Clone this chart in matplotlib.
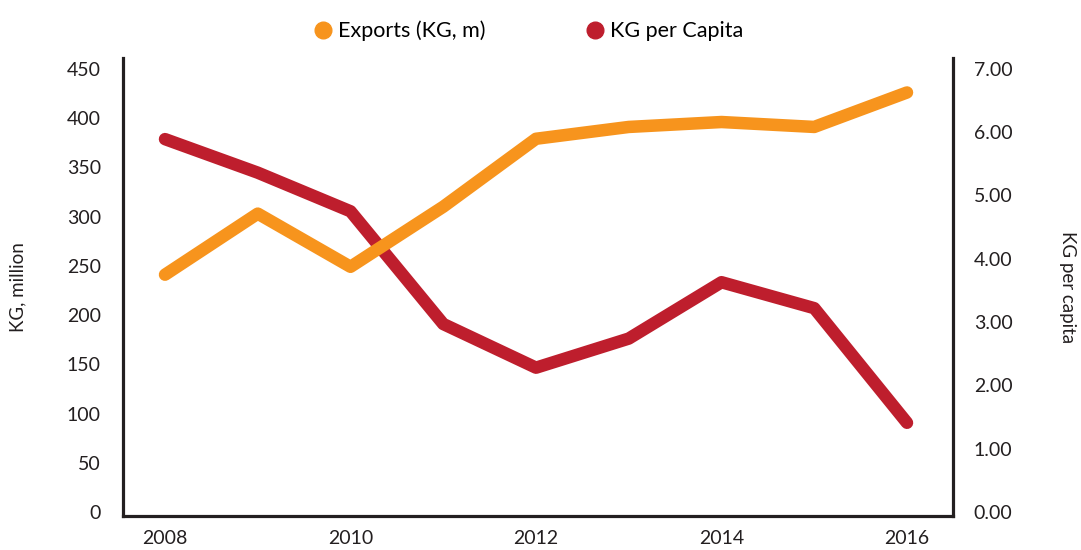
import matplotlib.pyplot as plt
from matplotlib.lines import Line2D

years = [2008, 2009, 2010, 2011, 2012, 2013, 2014, 2015, 2016]
exports = [241, 303, 249, 310, 379, 391, 396, 391, 426]
per_capita = [5.89, 5.36, 4.75, 2.97, 2.28, 2.74, 3.63, 3.22, 1.41]

orange = '#F7941D'
red = '#BE1E2D'
dark = '#231F20'

plt.rcParams['font.family'] = ['Lato', 'DejaVu Sans']

fig = plt.figure(figsize=(10.81, 5.5), dpi=100)
ax = fig.add_axes([123/1081, 1-516/550, (953-123)/1081, (516-58)/550])
ax2 = ax.twinx()

ax.plot(years, exports, color=orange, lw=9, solid_joinstyle='round', solid_capstyle='round', zorder=3)
ax2.plot(years, per_capita, color=red, lw=9, solid_joinstyle='round', solid_capstyle='round', zorder=2)
ax.set_zorder(ax2.get_zorder() + 1)
ax.patch.set_visible(False)

ax.set_xlim(2007.547, 2016.496)
ax.set_ylim(-4, 461)
ax2.set_ylim(-4*7/450, 461*7/450)

ax.set_xticks([2008, 2010, 2012, 2014, 2016])
ax.set_yticks(range(0, 451, 50))
ax2.set_yticks(range(0, 8))
ax2.set_yticklabels([f'{v:.2f}' for v in range(0, 8)])

for a in (ax, ax2):
    for s in a.spines.values():
        s.set_visible(False)
    a.tick_params(length=0, labelsize=14, colors=dark)
ax.spines['left'].set_visible(True)
ax.spines['bottom'].set_visible(True)
ax2.spines['right'].set_visible(True)
for s in (ax.spines['left'], ax.spines['bottom'], ax2.spines['right']):
    s.set_color(dark)
    s.set_linewidth(2.3)
ax.tick_params(axis='y', pad=16)
ax2.tick_params(axis='y', pad=15)
ax.tick_params(axis='x', pad=10)

ax.set_ylabel('KG, million', fontsize=13.5, color=dark, labelpad=29)
ax2.set_ylabel('KG per capita', fontsize=13.5, color=dark, rotation=-90, labelpad=46)

handles = [Line2D([], [], marker='o', ls='', color=orange, markersize=12),
           Line2D([], [], marker='o', ls='', color=red, markersize=12)]
fig.legend(handles, ['Exports (KG, m)', 'KG per Capita'], loc='upper center',
           bbox_to_anchor=(0.488, 0.998), ncol=2, frameon=False, fontsize=15.5,
           handletextpad=0.2, columnspacing=4.6, handlelength=1.0)

fig.savefig('out.png', dpi=100)
